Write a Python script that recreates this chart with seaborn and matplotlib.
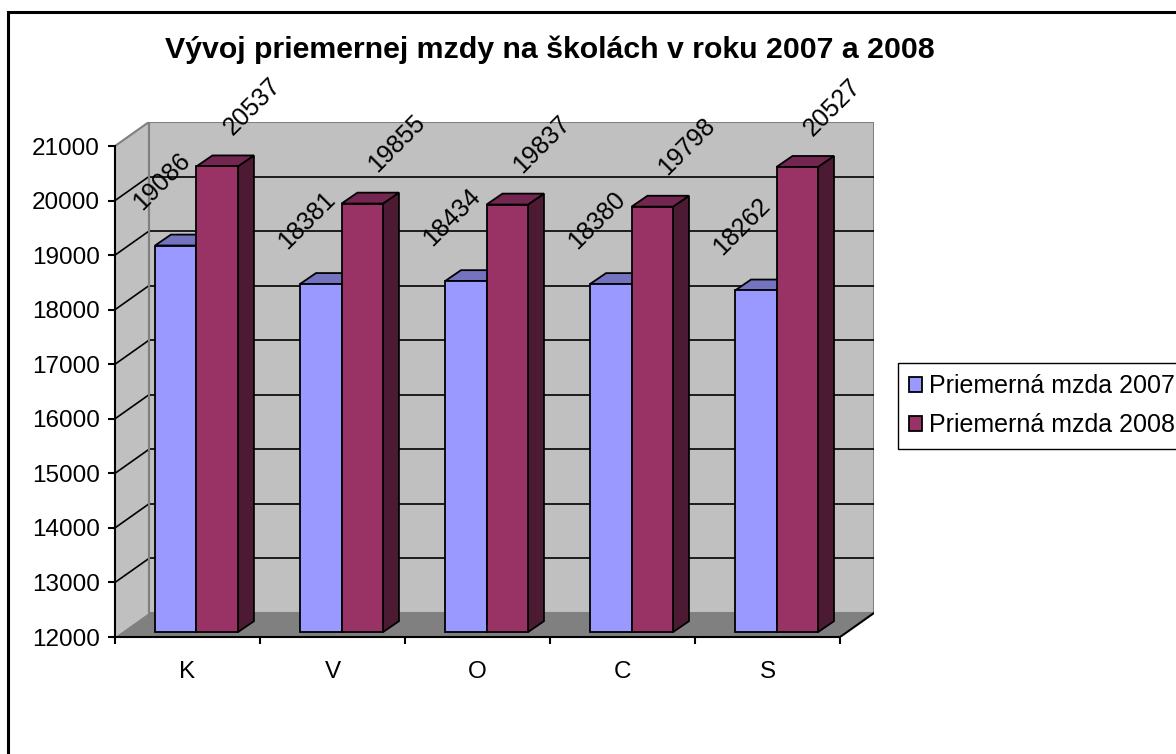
import matplotlib
matplotlib.use('Agg')
import matplotlib.pyplot as plt
from matplotlib.patches import Polygon, Rectangle, Patch
import pandas as pd
import seaborn as sns

# Chart data
categories = ['K', 'V', 'O', 'C', 'S']
series_names = ['Priemerná mzda 2007', 'Priemerná mzda 2008']
wage_2007 = [19086, 18381, 18434, 18380, 18262]
wage_2008 = [20537, 19855, 19837, 19798, 20527]
y_ticks = list(range(12000, 21001, 1000))

# Colours (Excel 2003 defaults)
front_colors = ['#9999FF', '#993366']
top_colors = ['#7373BF', '#732650']
side_colors = ['#4D4D80', '#4D1A33']
wall_color = '#C0C0C0'
floor_color = '#808080'

# pseudo-3D offsets in data units
WALL_DX, WALL_DY = 0.234, 440
BAR_DX, BAR_DY = 0.11, 200
BAR_SHIFT_X, BAR_SHIFT_Y = 0.062, 90
Y_BASE, Y_TOP = 12000, 21000

df = pd.DataFrame({
    'category': categories * 2,
    'series': [series_names[0]] * len(categories) + [series_names[1]] * len(categories),
    'value': wage_2007 + wage_2008,
})

sns.set_style('white')
plt.rcParams['font.family'] = ['Liberation Sans', 'DejaVu Sans']
plt.rcParams['text.color'] = 'black'
plt.rcParams['xtick.color'] = 'black'
plt.rcParams['ytick.color'] = 'black'

W, H = 1176, 754
fig = plt.figure(figsize=(W / 100, H / 100), dpi=100)
ax = fig.add_axes([115 / W, (H - 637) / H, 759 / W, 515 / H])
ax.patch.set_alpha(0)

n = len(categories)
xl, xr = -0.5, n - 0.5

# walls and floor
ax.add_patch(Polygon([(xl, Y_BASE), (xl + WALL_DX, Y_BASE + WALL_DY),
                      (xl + WALL_DX, Y_TOP + WALL_DY), (xl, Y_TOP)],
                     closed=True, facecolor=wall_color, edgecolor='none', zorder=0))
ax.add_patch(Rectangle((xl + WALL_DX, Y_BASE + WALL_DY), n, Y_TOP - Y_BASE,
                       facecolor=wall_color, edgecolor='#808080', lw=1.5, zorder=0))
ax.add_patch(Polygon([(xl, Y_BASE), (xr, Y_BASE), (xr + WALL_DX, Y_BASE + WALL_DY),
                      (xl + WALL_DX, Y_BASE + WALL_DY)],
                     closed=True, facecolor=floor_color, edgecolor='none', zorder=0.2))
ax.plot([xr, xr + WALL_DX], [Y_BASE, Y_BASE + WALL_DY], color='black', lw=1.5, zorder=0.3)
ax.plot([xl + WALL_DX, xl + WALL_DX], [Y_BASE + WALL_DY, Y_TOP + WALL_DY], color='#808080', lw=1.5, zorder=0.3)
ax.plot([xl, xl + WALL_DX], [Y_TOP, Y_TOP + WALL_DY], color='#808080', lw=1.5, zorder=0.3)

# gridlines on back wall and left wall
for v in y_ticks[1:-1]:
    ax.plot([xl + WALL_DX, xr + WALL_DX], [v + WALL_DY, v + WALL_DY], color='black', lw=1.2, zorder=0.1)
    ax.plot([xl, xl + WALL_DX], [v, v + WALL_DY], color='black', lw=1.2, zorder=0.1)

sns.barplot(data=df, x='category', y='value', hue='series', palette=front_colors,
            width=0.572, edgecolor='black', linewidth=1.3, saturation=1,
            legend=False, ax=ax)

for i, container in enumerate(ax.containers):
    for bar, val in zip(container, df.loc[df['series'] == series_names[i], 'value']):
        x0 = bar.get_x() + BAR_SHIFT_X
        w = bar.get_width()
        bar.set_x(x0)
        bar.set_y(Y_BASE + BAR_SHIFT_Y)
        bar.set_height(val - Y_BASE)
        bar.set_zorder(3)
        bottom = Y_BASE + BAR_SHIFT_Y
        top = val + BAR_SHIFT_Y
        x1 = x0 + w
        ax.add_patch(Polygon([(x1, bottom), (x1 + BAR_DX, bottom + BAR_DY),
                              (x1 + BAR_DX, top + BAR_DY), (x1, top)],
                             closed=True, facecolor=side_colors[i], edgecolor='black', lw=1.3, zorder=2))
        ax.add_patch(Polygon([(x0, top), (x1, top), (x1 + BAR_DX, top + BAR_DY),
                              (x0 + BAR_DX, top + BAR_DY)],
                             closed=True, facecolor=top_colors[i], edgecolor='black', lw=1.3, zorder=2))
        off = (-10, 46) if i == 0 else (25, 43)
        ax.annotate(f'{val}', (x0 + w / 2, top), xytext=off, textcoords='offset points',
                    rotation=45, ha='center', va='center', fontsize=18, zorder=5,
                    rotation_mode='anchor')

ax.set_xlim(xl, xr + WALL_DX)
ax.set_ylim(Y_BASE, Y_TOP + WALL_DY)
ax.set_xlabel('')
ax.set_ylabel('')

for s in ['top', 'right']:
    ax.spines[s].set_visible(False)
ax.spines['left'].set_bounds(Y_BASE, Y_TOP)
ax.spines['bottom'].set_bounds(xl, xr)
for s in ['left', 'bottom']:
    ax.spines[s].set_color('black')
    ax.spines[s].set_linewidth(1.5)
    ax.spines[s].set_zorder(4)

ax.set_yticks(y_ticks)
ax.set_yticklabels([str(v) for v in y_ticks])
ax.set_xticks(range(n))
ax.set_xticklabels(categories)
ax.set_xticks([k - 0.5 for k in range(n + 1)], minor=True)
ax.tick_params(axis='y', which='major', left=True, length=5, width=1.5, pad=6, labelsize=17.5)
ax.tick_params(axis='x', which='major', bottom=False, length=0, pad=17, labelsize=17.5)
ax.tick_params(axis='x', which='minor', bottom=True, length=5, width=1.5)

fig.text(550 / W, 1 - 50 / H, 'Vývoj priemernej mzdy na školách v roku 2007 a 2008',
         ha='center', va='center', fontsize=21.8, fontweight='bold')

handles = [Patch(facecolor=c, edgecolor='black', lw=1.3) for c in front_colors]
fig.legend(handles, series_names, loc='upper left', bbox_to_anchor=(898 / W, 1 - 363 / H),
           frameon=True, fancybox=False, edgecolor='black', framealpha=1, fontsize=18,
           handlelength=0.5, handleheight=0.5, handletextpad=0.3, borderpad=0.45,
           labelspacing=0.6, borderaxespad=0)

# outer chart frame (cropped on the right and bottom)
fig.add_artist(Rectangle((8 / W, -0.1), 1.2, 1 - 12 / H + 0.1, transform=fig.transFigure,
                         fill=False, edgecolor='black', lw=2.2))

fig.savefig('out.png', dpi=100)
